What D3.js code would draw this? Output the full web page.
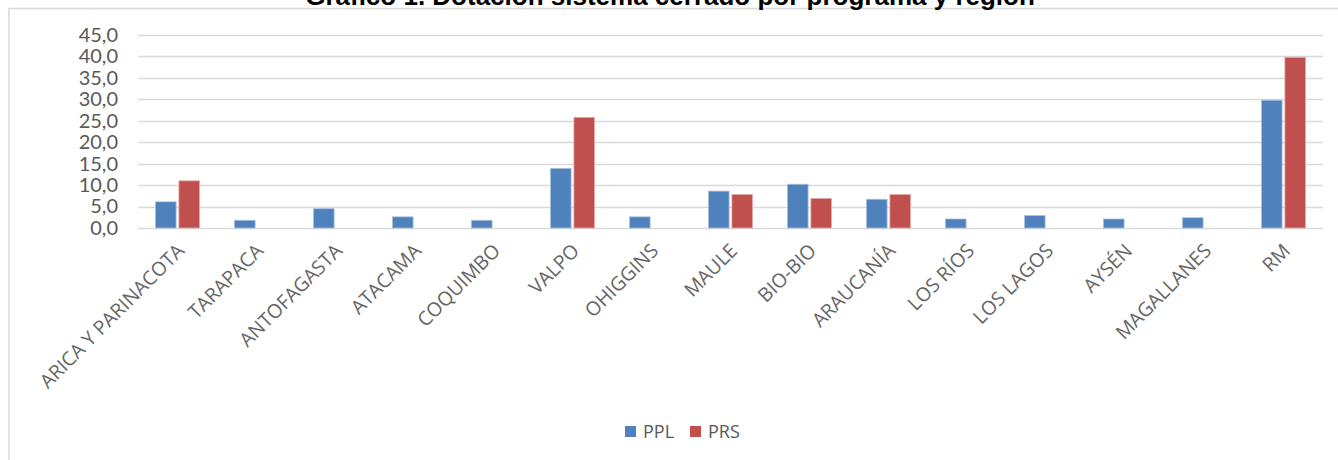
<!DOCTYPE html>
<html>
<head>
<meta charset="utf-8">
<script src="https://cdn.jsdelivr.net/npm/d3@7"></script>
<style>
  body { margin: 0; background: #fff; }
  svg { display: block; }
</style>
</head>
<body>
<div id="chart"></div>
<script>
// datos
var regiones = ['ARICA Y PARINACOTA', 'TARAPACA', 'ANTOFAGASTA', 'ATACAMA', 'COQUIMBO', 'VALPO',
    'OHIGGINS', 'MAULE', 'BIO-BIO', 'ARAUCANÍA', 'LOS RÍOS', 'LOS LAGOS', 'AYSÉN', 'MAGALLANES', 'RM'];
var ppl = [6.1, 1.8, 4.5, 2.6, 1.8, 13.9, 2.6, 8.6, 10.2, 6.7, 2.1, 2.9, 2.1, 2.4, 29.8];
var prs = [11.0, 0, 0, 0, 0, 25.8, 0, 7.8, 6.9, 7.8, 0, 0, 0, 0, 39.8];
var series = ['PPL', 'PRS'];
var colores = ['#4f81bd', '#c0504d'];
var yTicks = [0, 5, 10, 15, 20, 25, 30, 35, 40, 45];

var width = 1338, height = 460;
var svg = d3.select('#chart').append('svg')
    .attr('width', width)
    .attr('height', height);

// marco del gráfico
svg.append('rect')
    .attr('x', 9).attr('y', 8.5)
    .attr('width', 1340).attr('height', 470)
    .style('fill', '#fff')
    .style('stroke', '#d9d9d9')
    .style('stroke-width', 1.5);

// título (cortado arriba, como en el original)
svg.append('text')
    .attr('x', 670).attr('y', 5)
    .attr('text-anchor', 'middle')
    .style('font-family', 'Liberation Sans, Arial, sans-serif')
    .style('font-weight', 'bold')
    .style('font-size', '26px')
    .style('fill', '#000')
    .text('Gráfico 1. Dotación sistema cerrado por programa y región');

var x = d3.scaleBand().domain(regiones).range([138, 1323]);
var x1 = d3.scaleBand().domain(series).range([x.bandwidth() / 2 - 22, x.bandwidth() / 2 + 22]).paddingInner(0.12);
var y = d3.scaleLinear().domain([0, 45]).range([228, 35]);

var g = svg.append('g');

// líneas de cuadrícula
g.selectAll('line.grid')
    .data(yTicks)
    .enter().append('line')
    .attr('class', 'grid')
    .attr('x1', 138).attr('x2', 1323)
    .attr('y1', function(d) { return Math.round(y(d)) + 0.5; })
    .attr('y2', function(d) { return Math.round(y(d)) + 0.5; })
    .style('stroke', '#d9d9d9')
    .style('stroke-width', 1.3);

var yAxis = d3.axisLeft(y).tickValues(yTicks).tickSize(0).tickPadding(0)
    .tickFormat(function(d) { return d3.format('.1f')(d).replace('.', ','); });
g.append('g')
    .attr('transform', 'translate(118,0)')
    .call(yAxis)
    .call(function(a) { a.select('.domain').remove(); })
    .selectAll('text')
    .style('font-family', 'Lato, Open Sans, sans-serif')
    .style('font-size', '20px')
    .style('fill', '#595959');

// barras
var grupos = g.selectAll('g.region')
    .data(regiones)
    .enter().append('g')
    .attr('class', 'region')
    .attr('transform', function(d) { return 'translate(' + x(d) + ',0)'; });

grupos.selectAll('rect')
    .data(function(d, i) { return [ppl[i], prs[i]]; })
    .enter().append('rect')
    .filter(function(d) { return d > 0; })
    .attr('x', function(d, j) { return x1(series[j]); })
    .attr('width', x1.bandwidth())
    .attr('y', function(d) { return y(d); })
    .attr('height', function(d) { return y(0) - y(d); })
    .style('fill', function(d, j) { return colores[j]; })
    .style('stroke', function(d, j) { return j ? '#e6a9a7' : '#a9c0de'; })
    .style('stroke-width', 0.8);

// etiquetas del eje x
var xAxis = d3.axisBottom(x).tickSize(0).tickPadding(0);
g.append('g')
    .attr('transform', 'translate(0,228)')
    .call(xAxis)
    .call(function(a) { a.select('.domain').remove(); })
    .selectAll('text')
    .attr('text-anchor', 'end')
    .attr('dy', 0)
    .attr('transform', 'translate(8,24) rotate(-45)')
    .style('font-family', 'Open Sans, sans-serif')
    .style('font-size', '19.5px')
    .style('fill', '#666');

// leyenda
var leyenda = svg.append('g').attr('transform', 'translate(625,426)');
var items = leyenda.selectAll('g')
    .data(series)
    .enter().append('g')
    .attr('transform', function(d, i) { return 'translate(' + (i * 65) + ',0)'; });
items.append('rect')
    .attr('width', 11).attr('height', 11)
    .style('fill', function(d, i) { return colores[i]; });
items.append('text')
    .attr('x', 18).attr('y', 12)
    .style('font-family', 'Open Sans, sans-serif')
    .style('font-size', '18px')
    .style('fill', '#595959')
    .text(function(d) { return d; });
</script>
</body>
</html>
